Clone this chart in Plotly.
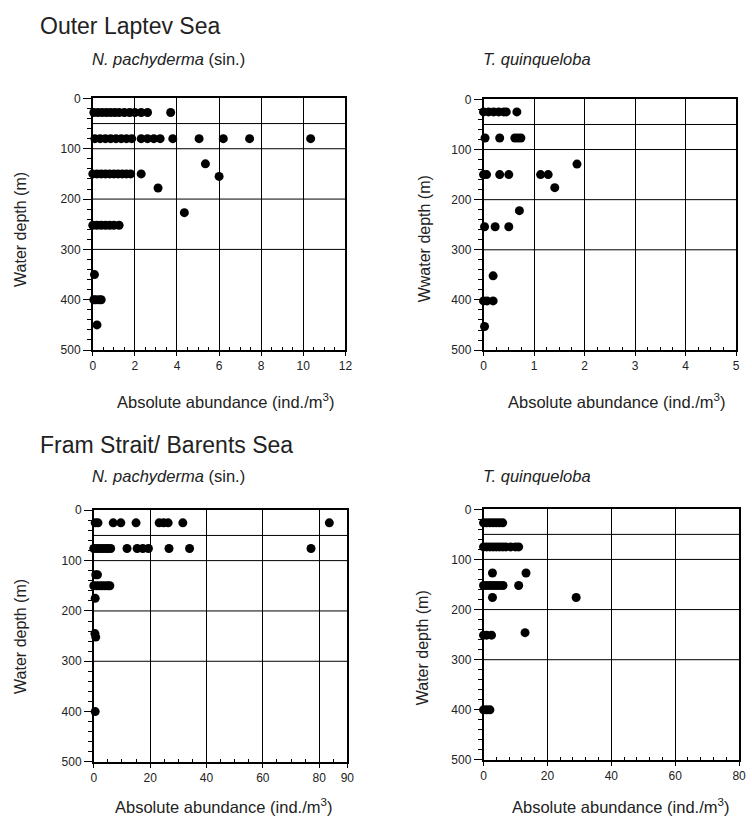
import plotly.graph_objects as go

# ---------------- data ----------------
# Outer Laptev Sea, N. pachyderma (sin.)
laptev_np_abund = [0.05, 0.25, 0.45, 0.65, 0.85, 1.05, 1.25, 1.5, 1.75, 2.0, 2.3, 2.6, 3.7,
                   0.1, 0.35, 0.6, 0.85, 1.1, 1.35, 1.6, 1.85, 2.3, 2.6, 2.9, 3.2, 3.8, 5.05, 6.2, 7.45, 10.35,
                   0.0, 0.2, 0.4, 0.6, 0.8, 1.0, 1.2, 1.4, 1.6, 1.8, 2.3,
                   5.35, 6.0, 3.1, 4.35,
                   0.0, 0.2, 0.4, 0.6, 0.8, 1.0, 1.25,
                   0.08, 0.05, 0.15, 0.3, 0.4, 0.2]
laptev_np_depth = [28] * 13 + [80] * 17 + [150] * 11 + [130, 155, 178, 227] + [252] * 7 + [350, 400, 400, 400, 400, 450]

# Outer Laptev Sea, T. quinqueloba
laptev_tq_abund = [0.0, 0.1, 0.2, 0.3, 0.4, 0.45, 0.66,
                   0.03, 0.32, 0.62, 0.68, 0.74,
                   0.0, 0.06, 0.32, 0.5, 1.13, 1.28,
                   1.85, 1.41, 0.71,
                   0.02, 0.23, 0.5,
                   0.19, 0.0, 0.07, 0.19, 0.02]
laptev_tq_depth = [25] * 7 + [77] * 5 + [150] * 6 + [129, 176, 222] + [254] * 3 + [352, 402, 402, 402, 453]

# Fram Strait / Barents Sea, N. pachyderma (sin.)
fram_np_abund = [0.5, 1.5, 6.9, 9.6, 15.0, 23.2, 24.8, 26.4, 31.6, 83.6,
                 0.0, 1.0, 2.0, 3.0, 4.0, 5.0, 6.0, 11.8, 15.4, 17.4, 19.4, 26.7, 34.0, 77.1,
                 0.7, 1.3,
                 0.0, 1.0, 2.0, 3.0, 4.0, 5.0, 5.7,
                 0.5, 0.4, 0.7, 0.5]
fram_np_depth = [25] * 10 + [76] * 14 + [128, 128] + [150] * 7 + [175, 245, 252, 400]

# Fram Strait / Barents Sea, T. quinqueloba
fram_tq_abund = [0, 1, 2, 3, 4, 5, 6,
                 0, 1, 2, 3, 4, 5, 6, 7, 8.5, 10, 11,
                 2.8, 13.3,
                 0, 1, 2, 3, 4, 5, 6.1, 11,
                 2.8, 29,
                 0, 1, 2.5, 13,
                 0, 1, 2]
fram_tq_depth = [27] * 7 + [75] * 11 + [127, 127] + [152] * 8 + [176, 176] + [251, 251, 251, 246] + [400] * 3

depth_lines = [50, 100, 200, 300]
depth_ticks = [0, 100, 200, 300, 400, 500]

region_titles = ["Outer Laptev Sea", "Fram Strait/ Barents Sea"]
species_titles = ["<i>N. pachyderma</i> (sin.)", "<i>T. quinqueloba</i>"]
x_title = "Absolute abundance (ind./m<sup>3</sup>)"
y_titles = ["Water depth (m)", "Wwater depth (m)", "Water depth (m)", "Water depth (m)"]

W, H = 752, 823
FONT = "Liberation Sans, Arial, Helvetica, sans-serif"

# panel boxes in pixels: (x0, x1, y0, y1) and title positions
panels = [
    dict(box=(91, 347, 93, 349), x=laptev_np_abund, y=laptev_np_depth, rng=[0, 12], tickvals=[0, 2, 4, 6, 8, 10, 12], minor=0.5,
         xt=(225, 401), yt=(17, 226), st=(88, 53)),
    dict(box=(487, 743, 94, 349), x=laptev_tq_abund, y=laptev_tq_depth, rng=[0, 5], tickvals=[0, 1, 2, 3, 4, 5], minor=0.25,
         xt=(622, 401), yt=(428, 236), st=(484, 53)),
    dict(box=(92, 349, 512, 768), x=fram_np_abund, y=fram_np_depth, rng=[0, 90], tickvals=[0, 20, 40, 60, 80, 90], minor=5,
         xt=(223, 813), yt=(17, 640), st=(88, 477)),
    dict(box=(487, 746, 511, 766), x=fram_tq_abund, y=fram_tq_depth, rng=[0, 80], tickvals=[0, 20, 40, 60, 80], minor=4,
         xt=(626, 813), yt=(426, 652), st=(484, 477)),
]

fig = go.Figure()
layout = dict(width=W, height=H, margin=dict(l=0, r=0, t=0, b=0),
              paper_bgcolor="white", plot_bgcolor="white", showlegend=False,
              font=dict(family=FONT, color="#222", size=12))
shapes = []
annotations = []

for i, p in enumerate(panels):
    n = i + 1
    xa = "x" if n == 1 else f"x{n}"
    ya = "y" if n == 1 else f"y{n}"
    x0, x1, y0, y1 = p["box"]
    fig.add_trace(go.Scatter(x=p["x"], y=p["y"], mode="markers", xaxis=xa, yaxis=ya,
                             marker=dict(color="black", size=9, line=dict(width=0)),
                             cliponaxis=False, hoverinfo="x+y"))
    layout["xaxis" if n == 1 else f"xaxis{n}"] = dict(
        domain=[x0 / W, x1 / W], anchor=ya, range=p["rng"], tickvals=p["tickvals"],
        showgrid=True, gridcolor="black", gridwidth=1, zeroline=False,
        showline=True, linecolor="black", linewidth=1.5, mirror=True,
        ticks="outside", ticklen=4, tickcolor="black",
        tickfont=dict(size=12, family=FONT, color="#222"),
        minor=dict(dtick=p["minor"], tick0=0, ticks="inside", ticklen=3, tickcolor="black", showgrid=False),
        fixedrange=True)
    layout["yaxis" if n == 1 else f"yaxis{n}"] = dict(
        domain=[1 - y1 / H, 1 - y0 / H], anchor=xa, range=[500, 0], tickvals=depth_ticks,
        showgrid=False, zeroline=False,
        showline=True, linecolor="black", linewidth=1.5, mirror=True,
        ticks="outside", ticklen=8, tickcolor="black",
        tickfont=dict(size=12, family=FONT, color="#222"),
        minor=dict(dtick=20, tick0=0, ticks="outside", ticklen=4, tickcolor="black", showgrid=False),
        fixedrange=True)
    for d in depth_lines:
        shapes.append(dict(type="line", xref=f"{xa} domain", yref=ya, x0=0, x1=1, y0=d, y1=d,
                           line=dict(color="black", width=1)))
    # x axis title
    annotations.append(dict(text=x_title, xref="paper", yref="paper",
                            x=p["xt"][0] / W, y=1 - p["xt"][1] / H,
                            xanchor="center", yanchor="middle", showarrow=False,
                            font=dict(size=16.5, family=FONT, color="#222")))
    # y axis title
    annotations.append(dict(text=y_titles[i], xref="paper", yref="paper",
                            x=p["yt"][0] / W, y=1 - p["yt"][1] / H, textangle=-90,
                            xanchor="center", yanchor="middle", showarrow=False,
                            font=dict(size=16, family=FONT, color="#222")))
    # species title
    annotations.append(dict(text=species_titles[i % 2], xref="paper", yref="paper",
                            x=p["st"][0] / W, y=1 - p["st"][1] / H,
                            xanchor="left", yanchor="middle", showarrow=False,
                            font=dict(size=16.5, family=FONT, color="#222")))

for j, t in enumerate(region_titles):
    annotations.append(dict(text=t, xref="paper", yref="paper",
                            x=35 / W, y=1 - [19, 446][j] / H,
                            xanchor="left", yanchor="middle", showarrow=False,
                            font=dict(size=23, family=FONT, color="#222")))

layout["shapes"] = shapes
layout["annotations"] = annotations
fig.update_layout(**layout)
fig.write_html("out.html")
